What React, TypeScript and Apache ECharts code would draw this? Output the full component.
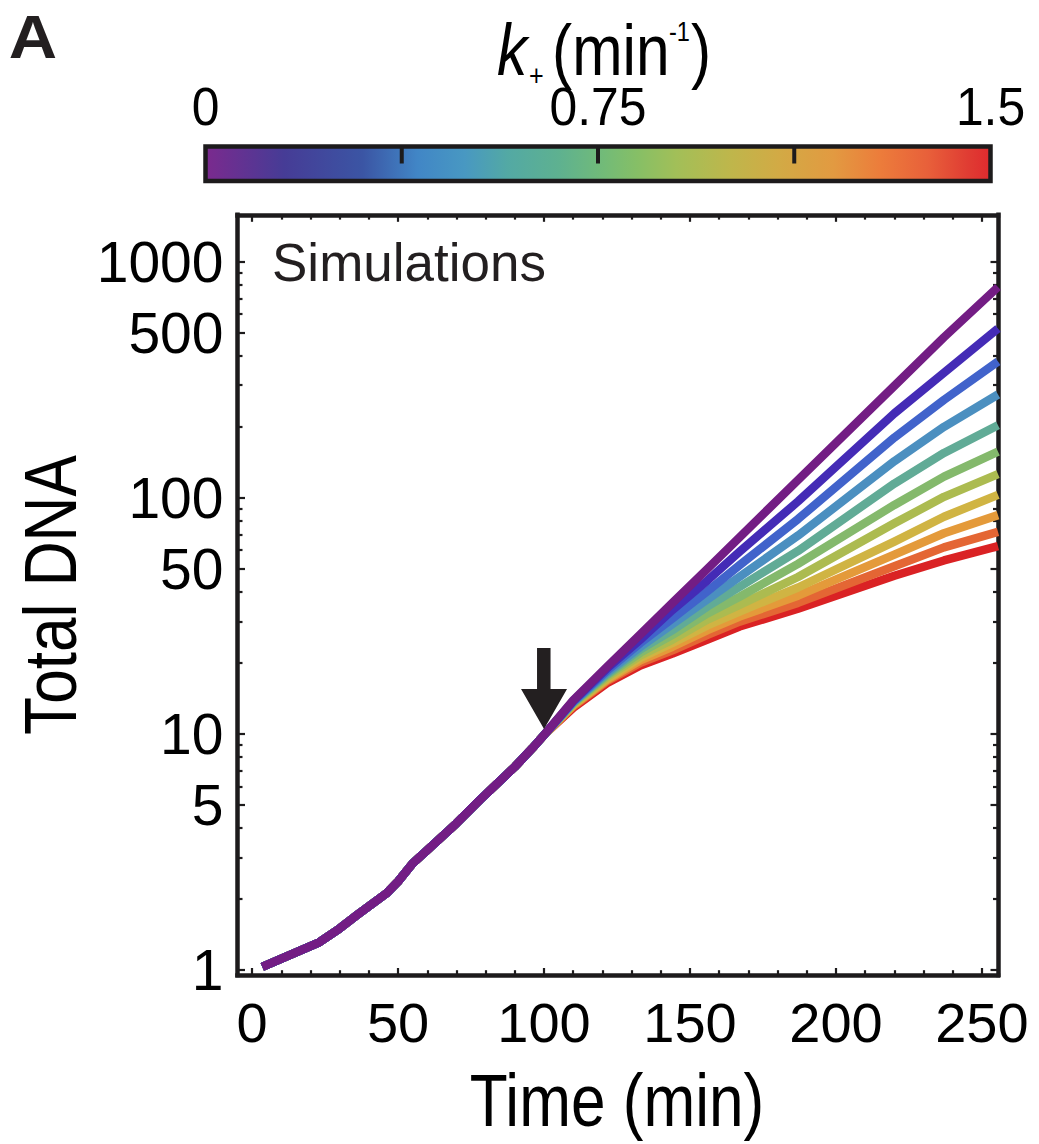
import React, { useEffect, useRef } from 'react';
import * as echarts from 'echarts';

// ---------- data ----------
const kValues = [0, 0.15, 0.3, 0.45, 0.6, 0.75, 0.9, 1.05, 1.2, 1.35, 1.5];
const lineColors = ['#731d84', '#442bb6', '#4163cb', '#4b8fc0', '#61ab96', '#84b96c', '#acbb50', '#d0b443', '#e49a3a', '#e46634', '#da2224'];

// shared trajectory before the perturbation (min, total DNA)
const trunkTimes = [3.5, 23, 30, 36, 46, 50, 55, 60, 70, 78, 90, 96, 100];
const trunkValues = [1.03, 1.31, 1.5, 1.71, 2.11, 2.37, 2.83, 3.22, 4.18, 5.25, 7.26, 8.7, 9.9];

// trajectories after the perturbation
const branchTimes = [110, 121.5, 133, 144, 156, 167, 187, 220, 237, 255.5];
const dnaK000 = [13.9, 19.2, 26.4, 35.9, 50.1, 68.1, 119, 298, 479, 782];
const dnaK015 = [13.8, 18.9, 25.1, 33.5, 44.7, 59.2, 96.6, 228, 339, 522];
const dnaK030 = [13.7, 18.5, 24.3, 30.9, 40.3, 51.9, 81.3, 180, 260, 378];
const dnaK045 = [13.6, 18.2, 23.4, 29.2, 37.2, 46.3, 69.2, 143, 200, 274];
const dnaK060 = [13.6, 17.9, 22.8, 27.5, 34.7, 42.0, 59.6, 115, 155, 203];
const dnaK075 = [13.5, 17.7, 22.1, 26.3, 32.4, 38.1, 52.5, 93.3, 123, 157];
const dnaK090 = [13.4, 17.4, 21.5, 25.1, 30.5, 35.2, 46.2, 78.0, 101, 126];
const dnaK105 = [13.3, 17.1, 21.0, 24.3, 28.8, 33.0, 41.7, 65.3, 83.2, 103];
const dnaK120 = [13.2, 16.9, 20.5, 23.4, 27.5, 31.4, 38.5, 57.5, 70.8, 84.5];
const dnaK135 = [13.1, 16.7, 20.0, 22.6, 26.3, 29.9, 35.9, 51.3, 61.7, 71.8];
const dnaK150 = [12.9, 16.4, 19.5, 21.9, 25.1, 28.5, 33.9, 46.8, 54.3, 62.4];
const branchValues = [dnaK000, dnaK015, dnaK030, dnaK045, dnaK060, dnaK075, dnaK090, dnaK105, dnaK120, dnaK135, dnaK150];

// axes
const xMajorTicks = [0, 50, 100, 150, 200, 250];
const xMinorTicks = [10, 20, 30, 40, 60, 70, 80, 90, 110, 120, 130, 140, 160, 170, 180, 190, 210, 220, 230, 240];
const yLabelTicks = [1, 5, 10, 50, 100, 500, 1000];
const yMinorTicks = [2, 3, 4, 6, 7, 8, 9, 20, 30, 40, 60, 70, 80, 90, 200, 300, 400, 600, 700, 800, 900];
const colorbarLabels = [0, 0.75, 1.5];
const colorbarTicks = [0.375, 0.75, 1.125];
const colorbarStops = [
  [0, '#7b2a8e'], [0.1, '#463c96'], [0.2, '#3b55a4'], [0.27, '#4186c6'], [0.33, '#4898c2'],
  [0.385, '#53a9a4'], [0.45, '#5eb190'], [0.507, '#72bb78'], [0.55, '#86bf66'], [0.6, '#a2bf58'],
  [0.67, '#bfb64b'], [0.73, '#d2aa45'], [0.8, '#e29a41'], [0.86, '#ec7c3b'], [0.92, '#e8603a'],
  [0.97, '#e03d33'], [1, '#df2a2e'],
];

const X_MIN = -5;
const X_MAX = 255.5;
const Y_MIN = -0.0212; // log10 units
const Y_MAX = 3.199;

const FRAME = '#1d1b1c';
const SANS = "'Liberation Sans', Arial, sans-serif";
const NARROW_SCALE = 0.84;

const lg = (v: number) => Math.log10(v);

function makeXAxis(position: 'bottom' | 'top', major: boolean) {
  return {
    type: 'value',
    position,
    min: X_MIN,
    max: X_MAX,
    axisLine: { show: major, onZero: false, lineStyle: { color: FRAME, width: 4.5, cap: 'square' } },
    splitLine: { show: false },
    axisTick: {
      show: true,
      inside: true,
      length: major ? 7 : 4.8,
      lineStyle: { color: FRAME, width: 2.2 },
      customValues: major ? xMajorTicks : xMinorTicks,
    },
    axisLabel: major && position === 'bottom'
      ? { show: true, customValues: xMajorTicks, margin: 19, fontSize: 56, fontFamily: SANS, color: '#000' }
      : { show: false },
  };
}

function makeYAxis(position: 'left' | 'right', major: boolean) {
  return {
    type: 'value',
    position,
    min: Y_MIN,
    max: Y_MAX,
    axisLine: { show: major, onZero: false, lineStyle: { color: FRAME, width: 4.5, cap: 'square' } },
    splitLine: { show: false },
    axisTick: {
      show: true,
      inside: true,
      length: major ? 7.5 : 5,
      lineStyle: { color: FRAME, width: 2.2 },
      customValues: (major ? yLabelTicks : yMinorTicks).map(lg),
    },
    axisLabel: major && position === 'left'
      ? {
          show: true,
          customValues: yLabelTicks.map(lg),
          margin: 14,
          fontSize: 57,
          fontFamily: SANS,
          color: '#000',
          formatter: (v: number) => String(Math.round(Math.pow(10, v))),
        }
      : { show: false },
  };
}

export default function App() {
  const ref = useRef<HTMLDivElement>(null);

  useEffect(() => {
    document.body.style.margin = '0';
    if (!ref.current) return;
    const chart = echarts.init(ref.current, undefined, { renderer: 'svg' });

    const series: any[] = [];
    for (let i = kValues.length - 1; i >= 0; i--) {
      const data: number[][] = [];
      trunkTimes.forEach((t, j) => data.push([t, lg(trunkValues[j])]));
      branchTimes.forEach((t, j) => data.push([t, lg(branchValues[i][j])]));
      series.push({
        type: 'line',
        name: 'k+ = ' + kValues[i],
        xAxisIndex: 0,
        yAxisIndex: 0,
        data,
        showSymbol: false,
        symbol: 'none',
        clip: true,
        lineStyle: { color: lineColors[i], width: 8.5, join: 'round' },
        emphasis: { disabled: true },
        silent: true,
      });
    }

    chart.setOption({
      animation: false,
      grid: { left: 237.5, right: 41, top: 214.8, bottom: 169, containLabel: false, outerBoundsMode: 'none' },
      xAxis: [makeXAxis('bottom', true), makeXAxis('bottom', false), makeXAxis('top', true), makeXAxis('top', false)],
      yAxis: [makeYAxis('left', true), makeYAxis('left', false), makeYAxis('right', true), makeYAxis('right', false)],
      series,
    });

    // arrow pointing at the perturbation time
    const tip = chart.convertToPixel({ xAxisIndex: 0, yAxisIndex: 0 }, [100, lg(10.5)]) as number[];
    const [ax, ay] = tip;
    const arrowPts = [
      [ax, ay], [ax - 23, ay - 40], [ax - 7, ay - 40], [ax - 7, ay - 81],
      [ax + 6.5, ay - 81], [ax + 6.5, ay - 40], [ax + 23, ay - 40],
    ];

    const barX = 205.5, barY = 146.5, barW = 785, barH = 34.5;
    const kMax = kValues[kValues.length - 1];
    const kToX = (k: number) => barX + (barW * k) / kMax;

    const narrowText = (x: number, y: number, text: string, fontSize: number, extra: any = {}, rotation = 0) => ({
      type: 'text', x, y, rotation, scaleX: NARROW_SCALE,
      style: { text, fill: '#000', fontSize, fontFamily: SANS, align: 'left', verticalAlign: 'middle', ...extra },
    });

    const graphics: any[] = [
      { type: 'polygon', shape: { points: arrowPts }, style: { fill: '#231f20' }, z: 50 },
      {
        type: 'text', x: 272, y: 262, z: 50,
        style: { text: 'Simulations', fill: '#231f20', fontSize: 53, fontFamily: SANS, align: 'left', verticalAlign: 'middle' },
      },
      narrowText(617, 1100, 'Time (min)', 74, { align: 'center' }),
      narrowText(50, 595, 'Total DNA', 74, { align: 'center' }, Math.PI / 2),
      {
        type: 'text', x: 33, y: 37, scaleX: 1.08,
        style: { text: 'A', fill: '#231f20', fontSize: 62, fontWeight: 'bold', fontFamily: SANS, align: 'center', verticalAlign: 'middle' },
      },
      // colorbar
      {
        type: 'rect', shape: { x: barX, y: barY, width: barW, height: barH },
        style: {
          fill: new echarts.graphic.LinearGradient(0, 0, 1, 0, colorbarStops.map(([o, c]) => ({ offset: o as number, color: c as string }))),
          stroke: FRAME, lineWidth: 4.5,
        },
      },
      ...colorbarTicks.map((k) => ({
        type: 'line', shape: { x1: kToX(k), y1: barY, x2: kToX(k), y2: barY + 17 },
        style: { stroke: FRAME, lineWidth: 4 },
      })),
      ...colorbarLabels.map((k) => ({
        type: 'text', x: kToX(k), y: 106, scaleX: 0.94,
        style: { text: String(k), fill: '#000', fontSize: 53, fontFamily: SANS, align: 'center', verticalAlign: 'middle' },
      })),
      // colorbar title: k+ (min^-1)
      narrowText(497, 50, 'k', 72, { fontStyle: 'italic' }),
      narrowText(529, 76, '+', 30),
      narrowText(552, 50, '(min', 72),
      narrowText(669, 31, '-1', 28),
      narrowText(691, 50, ')', 72),
    ];

    chart.setOption({ graphic: graphics });

    return () => chart.dispose();
  }, []);

  return <div ref={ref} style={{ width: 1039, height: 1144 }} />;
}
